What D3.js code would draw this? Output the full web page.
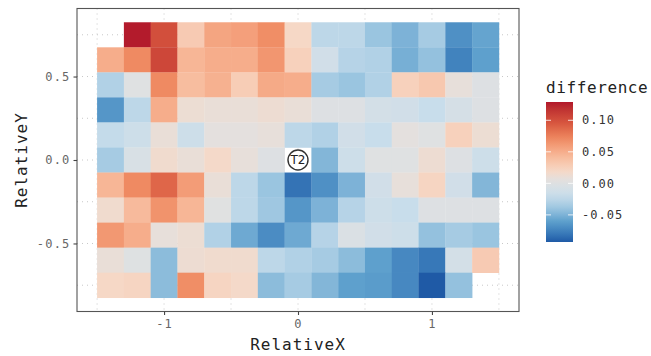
<!DOCTYPE html>
<html>
<head>
<meta charset="utf-8">
<script src="https://cdn.jsdelivr.net/npm/d3@7"></script>
<style>
  body { margin: 0; background: #fff; }
  svg text { font-family: "DejaVu Sans Mono", monospace; }
</style>
</head>
<body>
<div id="chart"></div>
<script>
// grid centres
const xCenters = [-1.4, -1.2, -1.0, -0.8, -0.6, -0.4, -0.2, 0, 0.2, 0.4, 0.6, 0.8, 1.0, 1.2, 1.4];
const yCenters = [0.75, 0.6, 0.45, 0.3, 0.15, 0, -0.15, -0.3, -0.45, -0.6, -0.75];

// difference values, one row per yCenter (top to bottom), null = no tile
const row075 = [null, 0.128, 0.100, 0.030, 0.055, 0.058, 0.068, 0.020, -0.025, -0.025, -0.040, -0.050, -0.035, -0.068, -0.058];
const row060 = [0.050, 0.070, 0.105, 0.045, 0.050, 0.050, 0.063, 0.025, -0.012, -0.028, -0.030, -0.052, -0.042, -0.075, -0.060];
const row045 = [-0.030, 0.002, 0.070, 0.040, 0.048, 0.028, 0.052, 0.050, -0.035, -0.040, -0.030, 0.025, 0.032, 0.008, 0.000];
const row030 = [-0.065, -0.025, 0.050, 0.012, 0.010, 0.010, 0.013, 0.010, 0.000, 0.000, -0.010, -0.012, -0.020, -0.008, 0.000];
const row015 = [-0.022, -0.015, 0.010, -0.015, 0.006, 0.006, 0.008, -0.025, -0.030, -0.012, -0.020, 0.006, 0.002, 0.025, 0.012];
const row000 = [-0.035, -0.005, 0.015, 0.010, 0.018, 0.008, 0.000, null, -0.048, -0.015, 0.002, 0.002, 0.013, 0.000, -0.015];
const rowM015 = [0.045, 0.070, 0.088, 0.060, 0.010, -0.025, -0.040, -0.082, -0.068, -0.050, -0.012, 0.008, 0.022, -0.012, -0.048];
const rowM030 = [0.015, 0.042, 0.065, 0.045, 0.003, -0.025, -0.038, -0.065, -0.050, -0.028, -0.015, -0.020, 0.000, 0.000, 0.000];
const rowM045 = [0.062, 0.050, 0.008, 0.012, -0.030, -0.055, -0.070, -0.055, -0.028, -0.003, -0.012, -0.015, -0.042, -0.035, -0.040];
const rowM060 = [0.010, 0.001, -0.045, 0.013, 0.015, 0.015, -0.025, -0.030, -0.035, -0.045, -0.060, -0.072, -0.080, -0.010, 0.030];
const rowM075 = [0.020, 0.022, -0.045, 0.068, 0.022, 0.018, -0.045, -0.035, -0.048, -0.060, -0.062, -0.072, -0.093, -0.042, null];
const rows = [row075, row060, row045, row030, row015, row000, rowM015, rowM030, rowM045, rowM060, rowM075];

const xTicks = [-1, 0, 1];
const yTicks = [0.5, 0, -0.5];
const xGrid = [-1.5, -1, -0.5, 0, 0.5, 1, 1.5];
const yGrid = [0.75, 0.5, 0.25, 0, -0.25, -0.5, -0.75];
const legendTicks = [0.10, 0.05, 0.00, -0.05];
const marker = { x: 0, y: 0, label: "T2" };

const width = 651, height = 356;
const svg = d3.select("#chart").append("svg")
  .attr("width", width)
  .attr("height", height);

// scales
const x = d3.scaleLinear().domain([-1.65, 1.65]).range([77, 519]);
const y = d3.scaleLinear().domain([-0.9075, 0.9075]).range([311.5, 8.5]);
const cw = 0.2, ch = 0.15;
const hyphen = f => d => f(d).replace("\u2212", "-");

const fillMin = -0.093, fillMax = 0.129;
const color = d3.scaleLinear()
  .domain([-0.093, -0.078, -0.06, -0.04, -0.02, 0.004, 0.02, 0.045, 0.07, 0.095, 0.129])
  .range(["#1f5aa6", "#3a7dbb", "#5ea0cd", "#9ac5e0", "#c8ddeb", "#e1e1e1", "#f6d8c6", "#f7b696", "#ef8a62", "#d8573f", "#b2182b"])
  .interpolate(d3.interpolateLab)
  .clamp(true);

// panel
svg.append("rect")
  .attr("x", x(-1.65)).attr("y", y(0.9075))
  .attr("width", x(1.65) - x(-1.65)).attr("height", y(-0.9075) - y(0.9075))
  .attr("fill", "#fff");

// dotted grid
const grid = svg.append("g")
  .attr("stroke", "#c8c8c8")
  .attr("stroke-width", 1)
  .attr("stroke-dasharray", "1,4");
grid.selectAll("line.gx").data(xGrid).enter().append("line")
  .attr("x1", d => x(d)).attr("x2", d => x(d))
  .attr("y1", y(0.9075)).attr("y2", y(-0.9075));
grid.selectAll("line.gy").data(yGrid).enter().append("line")
  .attr("y1", d => y(d)).attr("y2", d => y(d))
  .attr("x1", x(-1.65)).attr("x2", x(1.65));

// tiles
const cells = [];
rows.forEach((r, i) => r.forEach((v, j) => {
  if (v !== null) cells.push({ x: xCenters[j], y: yCenters[i], v: v });
}));

svg.append("g")
  .selectAll("rect")
  .data(cells)
  .enter()
  .append("rect")
  .attr("x", d => x(d.x - cw / 2))
  .attr("y", d => y(d.y + ch / 2))
  .attr("width", d => x(d.x + cw / 2) - x(d.x - cw / 2) + 0.3)
  .attr("height", d => y(d.y - ch / 2) - y(d.y + ch / 2) + 0.3)
  .attr("fill", d => color(d.v));

// T2 marker
const mk = svg.append("g")
  .attr("transform", `translate(${x(marker.x)},${y(marker.y)})`);
mk.append("circle")
  .attr("r", 10)
  .attr("fill", "#fff")
  .attr("stroke", "#333")
  .attr("stroke-width", 1.4);
mk.append("text")
  .attr("text-anchor", "middle")
  .attr("dy", "0.36em")
  .attr("font-size", 12)
  .attr("fill", "#222")
  .style("font-family", "'DejaVu Sans', sans-serif")
  .text(marker.label);

// panel border
svg.append("rect")
  .attr("x", x(-1.65)).attr("y", y(0.9075))
  .attr("width", x(1.65) - x(-1.65)).attr("height", y(-0.9075) - y(0.9075))
  .attr("fill", "none")
  .attr("stroke", "#555")
  .attr("stroke-width", 1.1);

// axes
const xAxis = svg.append("g")
  .attr("transform", `translate(0,${y(-0.9075)})`)
  .call(d3.axisBottom(x).tickValues(xTicks).tickSize(3.5).tickPadding(4).tickFormat(hyphen(d3.format("d"))));
const yAxis = svg.append("g")
  .attr("transform", `translate(${x(-1.65)},0)`)
  .call(d3.axisLeft(y).tickValues(yTicks).tickSize(3.5).tickPadding(3).tickFormat(hyphen(d3.format(".1f"))));

[xAxis, yAxis].forEach(a => {
  a.select(".domain").remove();
  a.selectAll(".tick line").attr("stroke", "#444").attr("stroke-width", 1.1);
  a.selectAll(".tick text")
    .attr("fill", "#666")
    .attr("font-size", 12)
    .attr("letter-spacing", 1.2)
    .style("font-family", "'DejaVu Sans Mono', monospace");
});

// axis titles
svg.append("text")
  .attr("x", (x(-1.65) + x(1.65)) / 2)
  .attr("y", 350)
  .attr("text-anchor", "middle")
  .attr("font-size", 16)
  .attr("letter-spacing", 1)
  .attr("fill", "#222")
  .text("RelativeX");
svg.append("text")
  .attr("transform", `translate(27,${(y(0.9075) + y(-0.9075)) / 2}) rotate(-90)`)
  .attr("text-anchor", "middle")
  .attr("font-size", 16)
  .attr("letter-spacing", 1)
  .attr("fill", "#222")
  .text("RelativeY");

// legend
const lg = svg.append("g");
lg.append("text")
  .attr("x", 546).attr("y", 93)
  .attr("font-size", 16)
  .attr("letter-spacing", 0.6)
  .attr("fill", "#222")
  .text("difference");

const ly = d3.scaleLinear().domain([fillMin, fillMax]).range([242, 102]);
const defs = svg.append("defs");
const grad = defs.append("linearGradient")
  .attr("id", "legendGrad")
  .attr("x1", 0).attr("x2", 0).attr("y1", 1).attr("y2", 0);
d3.range(0, 1.0001, 0.05).forEach(t => {
  grad.append("stop")
    .attr("offset", t)
    .attr("stop-color", color(fillMin + t * (fillMax - fillMin)));
});
lg.append("rect")
  .attr("x", 546).attr("y", 102)
  .attr("width", 27).attr("height", 140)
  .attr("fill", "url(#legendGrad)");

lg.selectAll("line.tl").data(legendTicks).enter().append("line")
  .attr("x1", 546).attr("x2", 551)
  .attr("y1", d => ly(d)).attr("y2", d => ly(d))
  .attr("stroke", "#fff").attr("stroke-width", 1).attr("opacity", 0.8);
lg.selectAll("line.tr").data(legendTicks).enter().append("line")
  .attr("x1", 568).attr("x2", 573)
  .attr("y1", d => ly(d)).attr("y2", d => ly(d))
  .attr("stroke", "#fff").attr("stroke-width", 1).attr("opacity", 0.8);
lg.selectAll("text.tk").data(legendTicks).enter().append("text")
  .attr("x", 582)
  .attr("y", d => ly(d))
  .attr("dy", "0.35em")
  .attr("font-size", 12)
  .attr("letter-spacing", 1)
  .attr("fill", "#333")
  .text(hyphen(d3.format(".2f")));
</script>
</body>
</html>
